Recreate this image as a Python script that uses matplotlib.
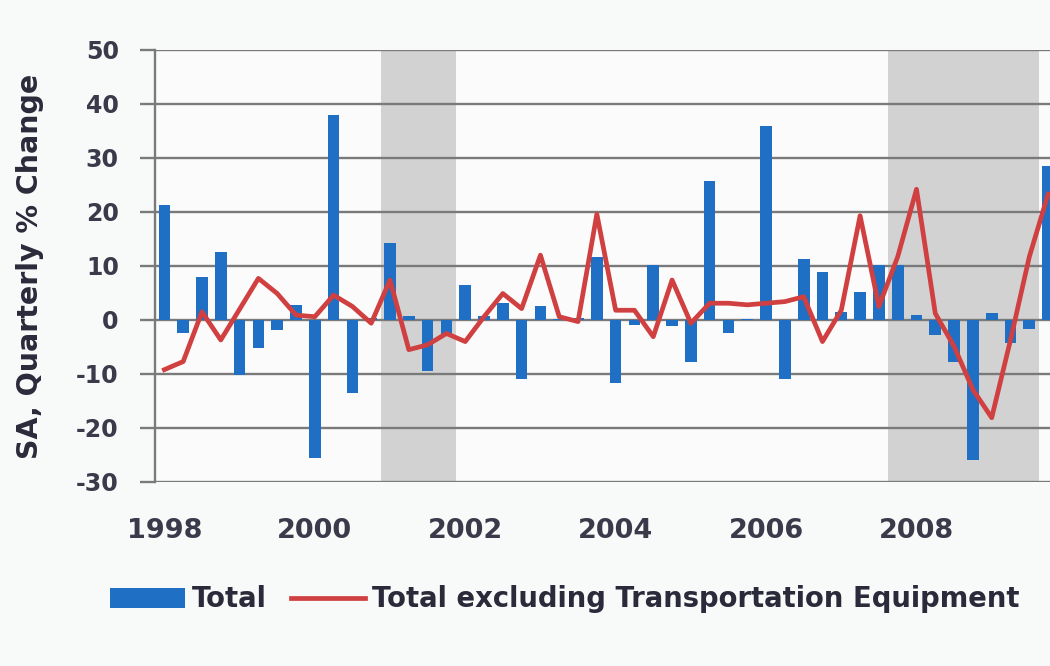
import matplotlib.pyplot as plt
import numpy as np

plt.rcParams['axes.unicode_minus'] = False

# quarterly data, 1998Q1 .. 2009Q4
years = ['1998', '2000', '2002', '2004', '2006', '2008']
total = [21.3, -2.5, 8.0, 12.6, -10.1, -5.2, -1.8, 2.8,
         -25.5, 37.9, -13.5, 0.3, 14.3, 0.7, -9.5, -2.8,
         6.4, 0.8, 3.1, -11.0, 2.5, 0.2, 0.3, 11.7,
         -11.7, -0.9, 10.1, -1.2, -7.7, 25.8, -2.5, 0.2,
         35.9, -11.0, 11.3, 8.9, 1.5, 5.2, 10.1, 10.1,
         0.9, -2.8, -7.7, -26.0, 1.2, -4.3, -1.7, 28.5]
excl_transport = [-9.2, -7.7, 1.5, -3.7, 2.0, 7.7, 4.9, 0.9,
                  0.6, 4.6, 2.5, -0.6, 7.4, -5.5, -4.6, -2.5,
                  -4.0, 0.6, 4.9, 2.1, 12.0, 0.6, -0.3, 19.6,
                  1.8, 1.8, -3.1, 7.4, -0.6, 3.1, 3.1, 2.8,
                  3.1, 3.4, 4.3, -4.0, 1.8, 19.3, 2.5, 11.7,
                  24.2, 1.2, -4.9, -12.9, -18.1, -3.7, 11.7, 23.3]
# recessions in quarter index (start, end inclusive)
recessions = [(12, 15), (39, 46)]

x = np.arange(len(total))

fig = plt.figure(figsize=(10.5, 6.66), dpi=100, facecolor='#f8f9f9')
ax = fig.add_axes([0.1476, 0.2763, 0.8524, 0.6487])
ax.set_facecolor('#fbfbfb')

for a, b in recessions:
    ax.axvspan(a - 0.5, b + 0.5, color='#d2d2d2', zorder=0, lw=0)

ax.set_ylim(-30, 50)
ax.set_yticks(np.arange(-30, 51, 10))
ax.yaxis.grid(True, color='#7a7a7a', lw=1.7, zorder=1)
ax.set_axisbelow(True)

bars = ax.bar(x, total, width=0.62, color='#1f6fc4', zorder=2, label='Total')
line, = ax.plot(x, excl_transport, color='#d04040', lw=3.4, zorder=3,
                label='Total excluding Transportation Equipment')

ax.set_xlim(-0.5, 47.1)
ax.set_xticks(np.arange(0, 48, 8))
ax.set_xticklabels(years)

for s in ['top', 'right', 'bottom']:
    ax.spines[s].set_visible(False)
ax.spines['left'].set_color('#7a7a7a')
ax.spines['left'].set_linewidth(1.7)

ax.tick_params(axis='y', length=11, width=1.7, color='#7a7a7a', pad=15,
               labelsize=17, labelcolor='#3a3a4a')
ax.tick_params(axis='x', length=0, pad=26, labelsize=19.5, labelcolor='#3a3a4a')
for lab in ax.get_xticklabels() + ax.get_yticklabels():
    lab.set_fontweight('bold')

ax.set_ylabel('SA, Quarterly % Change', fontsize=20.5, fontweight='bold',
              color='#2a2a3a')
ax.yaxis.set_label_coords(-0.124, 0.5)

fig.legend(handles=[bars, line], loc='center left', bbox_to_anchor=(0.105, 0.1), ncol=2,
           frameon=False, borderpad=0, borderaxespad=0,
           prop={'size': 19.8, 'weight': 'bold'}, handlelength=2.7, handleheight=0.75,
           handletextpad=0.25, columnspacing=0.9, labelcolor='#2a2a3a')

fig.savefig('out.png', dpi=100, facecolor=fig.get_facecolor())
